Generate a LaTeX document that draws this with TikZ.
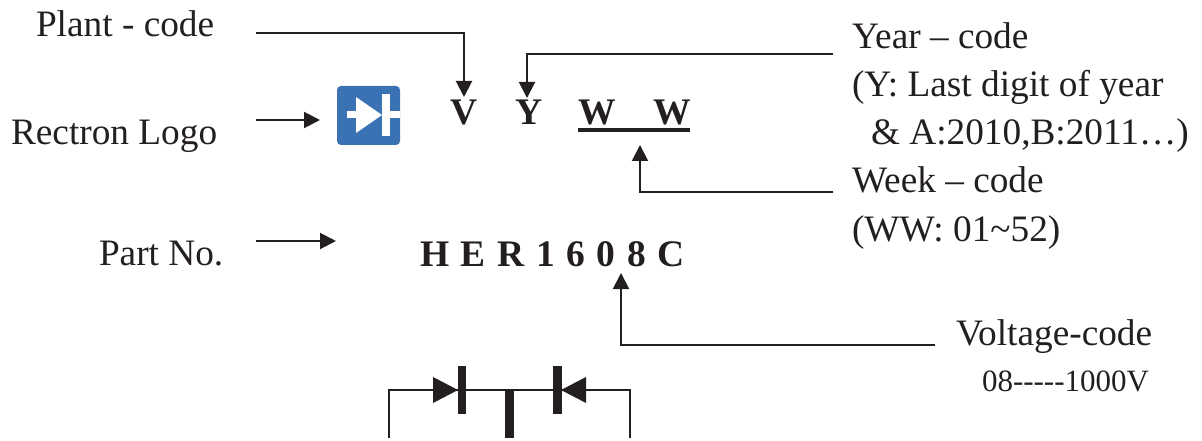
\documentclass[tikz,border=0pt]{standalone}
\usepackage{fontspec}
\setmainfont{Liberation Serif}
\usetikzlibrary{arrows.meta}
\definecolor{ink}{HTML}{231F20}
\definecolor{logoblue}{HTML}{3A72B4}
\tikzset{
  lbl/.style={anchor=base west,inner sep=0pt,outer sep=0pt,text=ink,font=\fontsize{37.3}{37.3}\selectfont},
  small/.style={lbl,font=\fontsize{31}{31}\selectfont},
  code/.style={anchor=base,inner sep=0pt,outer sep=0pt,text=ink,font=\fontsize{37.5}{37.5}\selectfont\bfseries},
  conn/.style={draw=ink,line width=2pt,-{Triangle[length=16pt,width=16pt,color=ink]}},
  wire/.style={draw=ink,line width=1.6pt},
  solid ink/.style={fill=ink,draw=none},
}
\begin{document}
\begin{tikzpicture}[x=1pt,y=-1pt]
\useasboundingbox (0,0) rectangle (1202,441);
% labels
\node[lbl] (plant) at (36,37) {Plant - code};
\node[lbl] (logo) at (11,145) {Rectron Logo};
\node[lbl] (part) at (99,265) {Part No.};
\node[lbl] (year) at (852,49) {Year – code};
\node[lbl] (yeara) at (852,97) {(Y: Last digit of year};
\node[lbl] (yearb) at (871,145) {\& A:2010,B:2011…)};
\node[lbl] (week) at (852,193) {Week – code};
\node[lbl] (weeka) at (852,241) {(WW: 01\char"7E 52)};
\node[lbl] (volt) at (956,345) {Voltage-code};
\node[small] (volta) at (982,391) {08{-}{-}{-}{-}{-}1000V};
% codes
\node[code] (cv) at (464,125) {V};
\node[code] (cy) at (529,125) {Y};
\node[code] (cw1) at (597,125) {W};
\node[code] (cw2) at (672,125) {W};
\node[code,anchor=base west,font=\fontsize{37.5}{37.5}\selectfont\bfseries\addfontfeature{LetterSpace=31}] (pn) at (420,266) {HER1608C};
\draw[ink,line width=3.5pt] (578,130) -- (690,130);
% logo
\fill[logoblue,rounded corners=4pt] (337,86) rectangle (400,145);
\fill[white] (356,97) -- (382,115) -- (356,133) -- cycle;
\fill[white] (382,94) rectangle (390,136);
\fill[white] (347,111) rectangle (357,118);
\fill[white] (389,111) rectangle (400,118);
% connector ends
\coordinate (p1) at (256,33);
\coordinate (p2) at (464,97);
\coordinate (y1) at (833,54);
\coordinate (y2) at (527,98);
\coordinate (w1) at (833,192);
\coordinate (w2) at (640,145);
\coordinate (v1) at (935,345);
\coordinate (v2) at (621,273);
\coordinate (r1) at (256,120);
\coordinate (r2) at (320,120);
\coordinate (n1) at (256,241);
\coordinate (n2) at (336,241);
\draw[conn] (p1) -| (p2);
\draw[conn] (y1) -| (y2);
\draw[conn] (w1) -| (w2);
\draw[conn] (v1) -| (v2);
\draw[conn] (r1) -- (r2);
\draw[conn] (n1) -- (n2);
% schematic
\coordinate (sl) at (389,438);
\coordinate (sr) at (630,438);
\coordinate (st) at (389,390);
\coordinate (su) at (630,390);
\draw[wire,line cap=butt] (sl) -- (st) -- (su) -- (sr);
\fill[solid ink] (433,377) -- (458,390) -- (433,403) -- cycle;
\fill[solid ink] (457.5,366) rectangle (466,414);
\fill[solid ink] (505,390) rectangle (514,438);
\fill[solid ink] (553,366) rectangle (562,414);
\fill[solid ink] (586,377) -- (561,390) -- (586,403) -- cycle;
\end{tikzpicture}
\end{document}
